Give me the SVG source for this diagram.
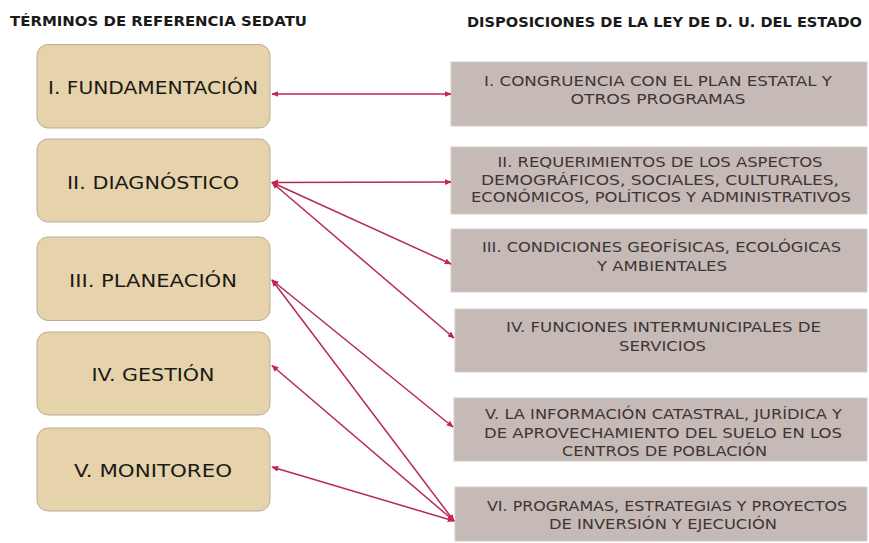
<svg xmlns="http://www.w3.org/2000/svg" width="869" height="543" viewBox="0 0 869 543">
<defs>
<style>
.title{font-family:"DejaVu Sans","Liberation Sans",sans-serif;font-weight:700;font-size:14px;fill:#1a1a1a}
.lbox{fill:#e6d3ab;stroke:#b8ad9b;stroke-width:1}
.ltext{font-family:"DejaVu Sans","Liberation Sans",sans-serif;font-size:18px;fill:#1c1a17;text-anchor:middle}
.rbox{fill:#c6bab6;stroke:#d6cdca;stroke-width:1}
.rtext{font-family:"DejaVu Sans","Liberation Sans",sans-serif;font-size:13.5px;fill:#3d3636;text-anchor:middle}
.conn{fill:none;stroke:#b8294f;stroke-width:1.5;marker-start:url(#ah);marker-end:url(#ah)}
</style>
<marker id="ah" viewBox="0 0 10 10" refX="9" refY="5" markerWidth="7" markerHeight="6" markerUnits="userSpaceOnUse" orient="auto-start-reverse" preserveAspectRatio="none">
<path d="M0,0 L10,5 L0,10 z" fill="#c8234f"/>
</marker>
</defs>
<rect width="869" height="543" fill="#ffffff"/>
<text class="title" x="10" y="26" textLength="297" lengthAdjust="spacingAndGlyphs">TÉRMINOS DE REFERENCIA SEDATU</text>
<text class="title" x="467" y="26.5" textLength="395" lengthAdjust="spacingAndGlyphs">DISPOSICIONES DE LA LEY DE D. U. DEL ESTADO</text>

<g id="l1"><rect class="lbox" x="37" y="44.5" width="233" height="83.5" rx="11"/><text class="ltext" x="153" y="94" textLength="210" lengthAdjust="spacingAndGlyphs">I. FUNDAMENTACIÓN</text></g>
<g id="l2"><rect class="lbox" x="37" y="139" width="233" height="83" rx="11"/><text class="ltext" x="153" y="189" textLength="172" lengthAdjust="spacingAndGlyphs">II. DIAGNÓSTICO</text></g>
<g id="l3"><rect class="lbox" x="37" y="237" width="233" height="83.5" rx="11"/><text class="ltext" x="153" y="287" textLength="168" lengthAdjust="spacingAndGlyphs">III. PLANEACIÓN</text></g>
<g id="l4"><rect class="lbox" x="37" y="332" width="233" height="83" rx="11"/><text class="ltext" x="153" y="381" textLength="123" lengthAdjust="spacingAndGlyphs">IV. GESTIÓN</text></g>
<g id="l5"><rect class="lbox" x="37" y="428" width="233" height="83" rx="11"/><text class="ltext" x="153" y="477" textLength="158" lengthAdjust="spacingAndGlyphs">V. MONITOREO</text></g>

<g id="r1"><rect class="rbox" x="451" y="62" width="416" height="64"/>
<text class="rtext" x="658" y="86" textLength="348" lengthAdjust="spacingAndGlyphs">I. CONGRUENCIA CON EL PLAN ESTATAL Y</text>
<text class="rtext" x="658" y="104" textLength="175" lengthAdjust="spacingAndGlyphs">OTROS PROGRAMAS</text></g>
<g id="r2"><rect class="rbox" x="451" y="147" width="416" height="67"/>
<text class="rtext" x="660" y="167" textLength="325" lengthAdjust="spacingAndGlyphs">II. REQUERIMIENTOS DE LOS ASPECTOS</text>
<text class="rtext" x="660" y="185" textLength="358" lengthAdjust="spacingAndGlyphs">DEMOGRÁFICOS, SOCIALES, CULTURALES,</text>
<text class="rtext" x="661" y="202" textLength="380" lengthAdjust="spacingAndGlyphs">ECONÓMICOS, POLÍTICOS Y ADMINISTRATIVOS</text></g>
<g id="r3"><rect class="rbox" x="451" y="229" width="416" height="63"/>
<text class="rtext" x="661.5" y="252" textLength="359" lengthAdjust="spacingAndGlyphs">III. CONDICIONES GEOFÍSICAS, ECOLÓGICAS</text>
<text class="rtext" x="662" y="271" textLength="130" lengthAdjust="spacingAndGlyphs">Y AMBIENTALES</text></g>
<g id="r4"><rect class="rbox" x="455" y="309" width="412" height="63"/>
<text class="rtext" x="663.5" y="332" textLength="315" lengthAdjust="spacingAndGlyphs">IV. FUNCIONES INTERMUNICIPALES DE</text>
<text class="rtext" x="662.5" y="351" textLength="87" lengthAdjust="spacingAndGlyphs">SERVICIOS</text></g>
<g id="r5"><rect class="rbox" x="454" y="398" width="413" height="63"/>
<text class="rtext" x="663.5" y="419" textLength="357" lengthAdjust="spacingAndGlyphs">V. LA INFORMACIÓN CATASTRAL, JURÍDICA Y</text>
<text class="rtext" x="663" y="438" textLength="358" lengthAdjust="spacingAndGlyphs">DE APROVECHAMIENTO DEL SUELO EN LOS</text>
<text class="rtext" x="664.5" y="456" textLength="205" lengthAdjust="spacingAndGlyphs">CENTROS DE POBLACIÓN</text></g>
<g id="r6"><rect class="rbox" x="455" y="487" width="412" height="54"/>
<text class="rtext" x="667" y="511" textLength="360" lengthAdjust="spacingAndGlyphs">VI. PROGRAMAS, ESTRATEGIAS Y PROYECTOS</text>
<text class="rtext" x="663" y="529" textLength="228" lengthAdjust="spacingAndGlyphs">DE INVERSIÓN Y EJECUCIÓN</text></g>

<g id="connectors">
<line class="conn" x1="272" y1="94" x2="451" y2="94"/>
<line class="conn" x1="272" y1="182.5" x2="451" y2="182"/>
<line class="conn" x1="272" y1="182.5" x2="451" y2="264"/>
<line class="conn" x1="272" y1="182.5" x2="454" y2="338"/>
<line class="conn" x1="272" y1="280" x2="453" y2="427"/>
<line class="conn" x1="272" y1="280" x2="454" y2="521"/>
<line class="conn" x1="272" y1="365.5" x2="454" y2="521"/>
<line class="conn" x1="272" y1="467" x2="454" y2="521"/>
</g>
</svg>
